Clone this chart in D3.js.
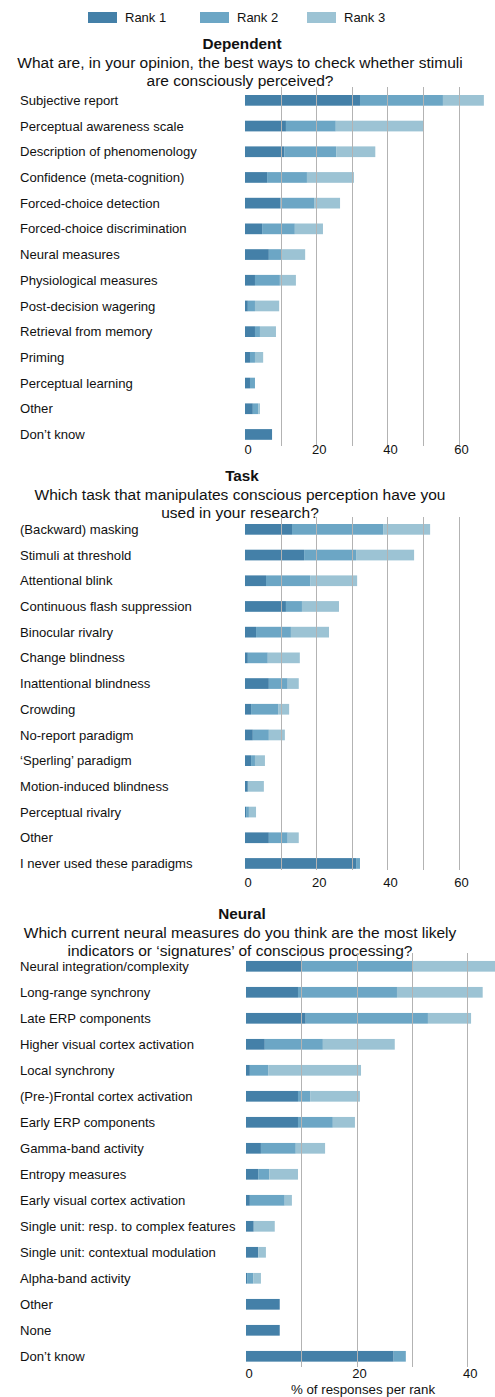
<!DOCTYPE html>
<html>
<head>
<meta charset="utf-8">
<script src="https://cdn.jsdelivr.net/npm/d3@7"></script>
<style>
  body { margin: 0; background: #fff; }
  svg text { font-family: "Liberation Sans", Arial, Helvetica, sans-serif; fill: #111; }
</style>
</head>
<body>
<div id="chart-area"></div>
<script>
var rankNames = ["Rank 1", "Rank 2", "Rank 3"];
var rankColors = ["#4480a8", "#6ca6c5", "#9cc3d4"];

// Dependent
var depLabels = ["Subjective report", "Perceptual awareness scale", "Description of phenomenology",
  "Confidence (meta-cognition)", "Forced-choice detection", "Forced-choice discrimination",
  "Neural measures", "Physiological measures", "Post-decision wagering", "Retrieval from memory",
  "Priming", "Perceptual learning", "Other", "Don\u2019t know"];
var depRank1 = [32.3, 11.5, 11.0, 6.2, 9.9, 4.8, 6.7, 2.8, 0.8, 2.8, 1.4, 1.4, 2.2, 7.6];
var depRank2 = [23.3, 14.0, 14.6, 11.2, 9.5, 9.2, 3.7, 7.0, 2.0, 1.4, 1.4, 1.4, 1.5, 0];
var depRank3 = [11.5, 24.5, 11.0, 13.2, 7.3, 7.9, 6.5, 4.5, 6.8, 4.5, 2.3, 0, 0.5, 0];

// Task
var taskLabels = ["(Backward) masking", "Stimuli at threshold", "Attentional blink",
  "Continuous flash suppression", "Binocular rivalry", "Change blindness", "Inattentional blindness",
  "Crowding", "No-report paradigm", "\u2018Sperling\u2019 paradigm", "Motion-induced blindness",
  "Perceptual rivalry", "Other", "I never used these paradigms"];
var taskRank1 = [13.2, 16.6, 5.9, 11.5, 3.1, 0.8, 6.7, 1.7, 2.2, 1.7, 0.8, 0.3, 6.7, 31.2];
var taskRank2 = [25.6, 14.6, 12.4, 4.5, 9.8, 5.6, 5.3, 7.6, 4.5, 1.1, 0, 0.8, 5.3, 1.1];
var taskRank3 = [13.2, 16.3, 13.2, 10.4, 10.7, 9.0, 3.1, 3.1, 4.5, 2.8, 4.5, 2.0, 3.1, 0];

// Neural
var neuLabels = ["Neural integration/complexity", "Long-range synchrony", "Late ERP components",
  "Higher visual cortex activation", "Local synchrony", "(Pre-)Frontal cortex activation",
  "Early ERP components", "Gamma-band activity", "Entropy measures", "Early visual cortex activation",
  "Single unit: resp. to complex features", "Single unit: contextual modulation",
  "Alpha-band activity", "Other", "None", "Don\u2019t know"];
var neuRank1 = [10.0, 9.4, 10.8, 3.4, 0.7, 9.4, 9.4, 2.7, 2.2, 0.7, 1.4, 2.2, 0.2, 6.1, 6.1, 26.7];
var neuRank2 = [20.1, 17.9, 22.1, 10.5, 3.3, 2.2, 6.3, 6.3, 2.0, 6.3, 0, 0, 1.1, 0, 0, 2.2];
var neuRank3 = [15.0, 15.5, 7.8, 13.0, 16.8, 9.0, 4.0, 5.3, 5.2, 1.3, 3.8, 1.4, 1.4, 0, 0, 0];

var panels = [
  { title: "Dependent", question: ["What are, in your opinion, the best ways to check whether stimuli", "are consciously perceived?"],
    labels: depLabels, ranks: [depRank1, depRank2, depRank3],
    titleY: 43, rowTop: 87.5, step: 25.7, x0: 245, unit: 3.56, max: 60,
    grid: [10, 20, 30, 40, 50, 60], ticks: [0, 20, 40, 60], gridTop: 87, gridBottom: 446, tickY: 454 },
  { title: "Task", question: ["Which task that manipulates conscious perception have you", "used in your research?"],
    labels: taskLabels, ranks: [taskRank1, taskRank2, taskRank3],
    titleY: 475, rowTop: 516.5, step: 25.7, x0: 245, unit: 3.56, max: 60,
    grid: [10, 20, 30, 40, 50, 60], ticks: [0, 20, 40, 60], gridTop: 517, gridBottom: 870, tickY: 887 },
  { title: "Neural", question: ["Which current neural measures do you think are the most likely", "indicators or \u2018signatures\u2019 of conscious processing?"],
    labels: neuLabels, ranks: [neuRank1, neuRank2, neuRank3],
    titleY: 913, rowTop: 953.3, step: 26, x0: 246, unit: 5.53, max: 40,
    grid: [10, 20, 30, 40], ticks: [0, 20, 40], gridTop: 953, gridBottom: 1367, tickY: 1378 }
];

var svg = d3.select("#chart-area")
  .append("svg")
  .attr("width", 495)
  .attr("height", 1397);

// legend
var legend = svg.append("g").attr("class", "legend");
var legendX = [88, 200, 307];
rankNames.forEach(function (name, i) {
  legend.append("rect")
    .attr("x", legendX[i]).attr("y", 12)
    .attr("width", 29).attr("height", 11)
    .attr("fill", rankColors[i]);
  legend.append("text")
    .attr("x", legendX[i] + 37).attr("y", 22)
    .attr("font-size", "13px")
    .text(name);
});

panels.forEach(function (p) {
  var g = svg.append("g");

  var xScale = d3.scaleLinear()
    .domain([0, p.max])
    .range([p.x0, p.x0 + p.max * p.unit]);

  var n = p.labels.length;
  var pad = 1 - 10.7 / p.step;
  var yScale = d3.scaleBand()
    .domain(p.labels)
    .range([p.rowTop, p.rowTop + n * p.step])
    .paddingInner(pad)
    .paddingOuter(pad / 2);

  g.append("text")
    .attr("x", 242).attr("y", p.titleY + 5.5)
    .attr("text-anchor", "middle")
    .attr("font-size", "15.3px")
    .attr("font-weight", "bold")
    .text(p.title);

  p.question.forEach(function (line, i) {
    g.append("text")
      .attr("x", 240).attr("y", p.titleY + 24.5 + i * 18.3)
      .attr("text-anchor", "middle")
      .attr("font-size", "15.5px")
      .text(line);
  });

  var rows = p.labels.map(function (label, i) {
    return { label: label, r0: p.ranks[0][i], r1: p.ranks[1][i], r2: p.ranks[2][i] };
  });
  var stack = d3.stack().keys(["r0", "r1", "r2"]);
  var series = stack(rows);

  g.selectAll("text.cat")
    .data(p.labels)
    .enter().append("text")
    .attr("class", "cat")
    .attr("x", 20)
    .attr("y", d => yScale(d) + yScale.bandwidth() / 2 + 4.6)
    .attr("font-size", "13.1px")
    .text(d => d);

  g.selectAll("g.series")
    .data(series)
    .enter().append("g")
    .attr("class", "series")
    .attr("fill", (d, i) => rankColors[i])
    .selectAll("rect")
    .data(d => d)
    .enter().append("rect")
    .attr("x", d => xScale(d[0]))
    .attr("y", d => yScale(d.data.label))
    .attr("width", d => xScale(d[1]) - xScale(d[0]))
    .attr("height", yScale.bandwidth());

  g.selectAll("line.grid")
    .data(p.grid)
    .enter().append("line")
    .attr("class", "grid")
    .attr("x1", d => Math.round(xScale(d)) + 0.5)
    .attr("x2", d => Math.round(xScale(d)) + 0.5)
    .attr("y1", p.gridTop)
    .attr("y2", p.gridBottom)
    .attr("stroke", "#b3b3b3")
    .attr("stroke-width", 1);

  g.selectAll("text.tick")
    .data(p.ticks)
    .enter().append("text")
    .attr("class", "tick")
    .attr("x", d => xScale(d) + 3)
    .attr("y", p.tickY)
    .attr("text-anchor", "middle")
    .attr("font-size", "13px")
    .text(d => d);
});

svg.append("text")
  .attr("x", 363).attr("y", 1394)
  .attr("text-anchor", "middle")
  .attr("font-size", "13.3px")
  .text("% of responses per rank");
</script>
</body>
</html>
